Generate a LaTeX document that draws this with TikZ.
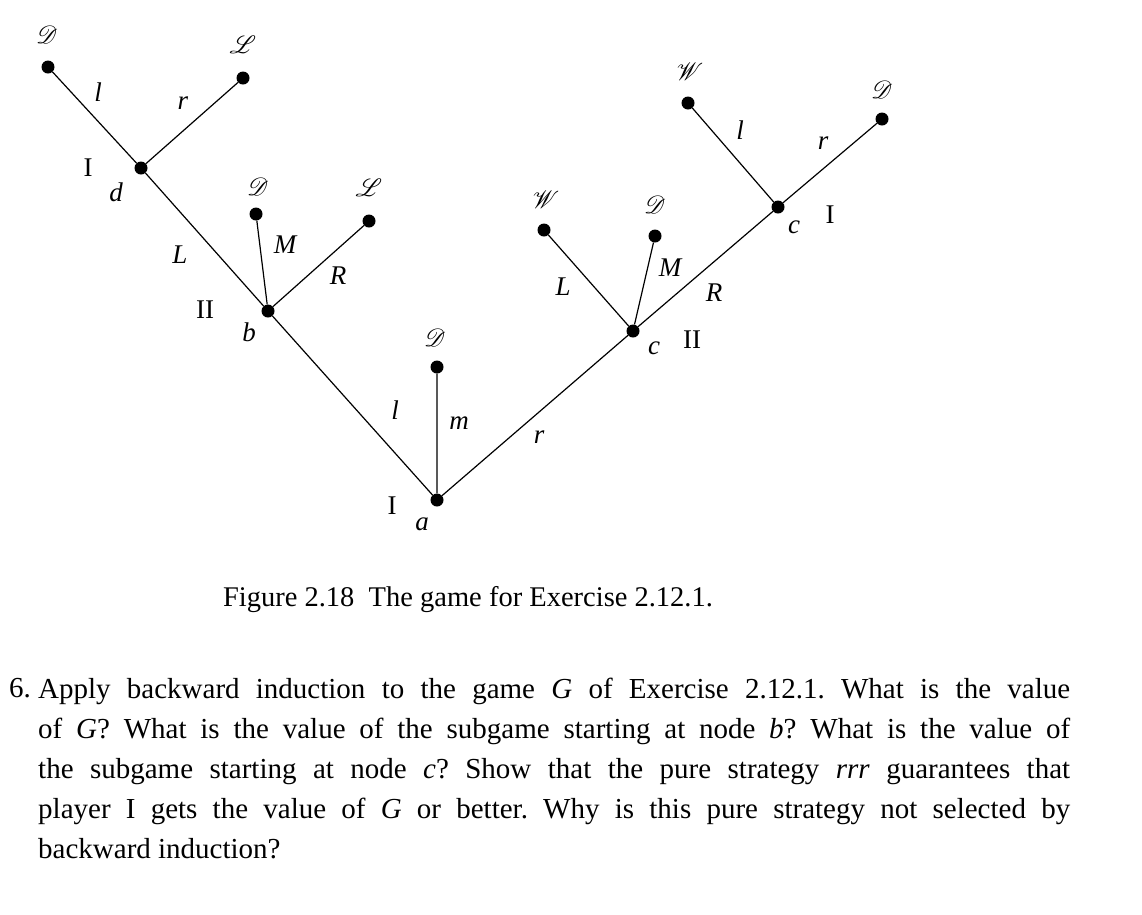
\documentclass[tikz,border=0pt]{standalone}
\usepackage{fontspec}
\usepackage{mathrsfs}
\setmainfont{Liberation Serif}
\begin{document}
\begin{tikzpicture}[x=1pt,y=-1pt,
  dot/.style={circle,fill=black,inner sep=0pt,minimum size=13pt},
  lf/.style={font=\fontsize{30}{30}\selectfont},
  lb/.style={font=\fontsize{27}{27}\selectfont\itshape},
  pl/.style={font=\fontsize{27}{27}\selectfont},
  edge/.style={line width=1.2pt}]
\useasboundingbox (0,0) rectangle (1142,914);
\node[dot] (a) at (437,500) {};
\node[dot] (am) at (437,367) {};
\node[dot] (b) at (268,311) {};
\node[dot] (d) at (141,168) {};
\node[dot] (dl) at (48,67) {};
\node[dot] (dr) at (243,78) {};
\node[dot] (bm) at (256,214) {};
\node[dot] (br) at (369,221) {};
\node[dot] (c2) at (633,331) {};
\node[dot] (cl) at (544,230) {};
\node[dot] (cm) at (655,236) {};
\node[dot] (c1) at (778,207) {};
\node[dot] (c1l) at (688,103) {};
\node[dot] (c1r) at (882,119) {};
\draw[edge] (a)--(am) (a)--(b) (b)--(d) (d)--(dl) (d)--(dr) (b)--(bm) (b)--(br)
  (a)--(c2) (c2)--(cl) (c2)--(cm) (c2)--(c1) (c1)--(c1l) (c1)--(c1r);
% leaf labels
\node[lf] (t1) at (47,35) {$\mathscr{D}$};
\node[lf] (t2) at (243,45) {$\mathscr{L}$};
\node[lf] (t3) at (258,187) {$\mathscr{D}$};
\node[lf] (t4) at (369,188) {$\mathscr{L}$};
\node[lf] (t5) at (435,338) {$\mathscr{D}$};
\node[lf] (t6) at (546,200) {$\mathscr{W}$};
\node[lf] (t7) at (655,205) {$\mathscr{D}$};
\node[lf] (t8) at (690,72) {$\mathscr{W}$};
\node[lf] (t9) at (882,90) {$\mathscr{D}$};
% edge labels
\node[lb] (e1) at (98,92) {l};
\node[lb] (e2) at (183,103) {r};
\node[lb] (e3) at (180,255) {L};
\node[lb] (e4) at (285,245) {M};
\node[lb] (e5) at (338,276) {R};
\node[lb] (e6) at (395,410) {l};
\node[lb] (e7) at (459,423) {m};
\node[lb] (e8) at (539,437) {r};
\node[lb] (e9) at (563,287) {L};
\node[lb] (e10) at (670,268) {M};
\node[lb] (e11) at (714,293) {R};
\node[lb] (e12) at (740,130) {l};
\node[lb] (e13) at (823,143) {r};
% node labels
\node[pl] (p1) at (88,168) {I};
\node[lb] (n1) at (116,192) {d};
\node[pl] (p2) at (205,310) {II};
\node[lb] (n2) at (249,332) {b};
\node[pl] (p3) at (392,506) {I};
\node[lb] (n3) at (422,524) {a};
\node[lb] (n4) at (654,348) {c};
\node[pl] (p4) at (692,340) {II};
\node[lb] (n5) at (794,227) {c};
\node[pl] (p5) at (830,215) {I};
% caption
\node[font=\fontsize{28.5}{28.5}\selectfont] (cap) at (468,600) {Figure 2.18\ \ The game for Exercise 2.12.1.};
\node[font=\fontsize{29}{40}\selectfont,anchor=north east,inner sep=0pt] (num) at (31,678) {6.};
\node[font=\fontsize{29}{40}\selectfont,anchor=north west,text width=1032pt,align=justify,inner sep=0pt] (par) at (38,678)
{\frenchspacing Apply backward induction to the game \textit{G} of Exercise 2.12.1. What is the value\linebreak
of \textit{G}? What is the value of the subgame starting at node \textit{b}? What is the value of\linebreak
the subgame starting at node \textit{c}? Show that the pure strategy \textit{rrr} guarantees that\linebreak
player I gets the value of \textit{G} or better. Why is this pure strategy not selected by\linebreak
backward induction?};
\end{tikzpicture}
\end{document}
